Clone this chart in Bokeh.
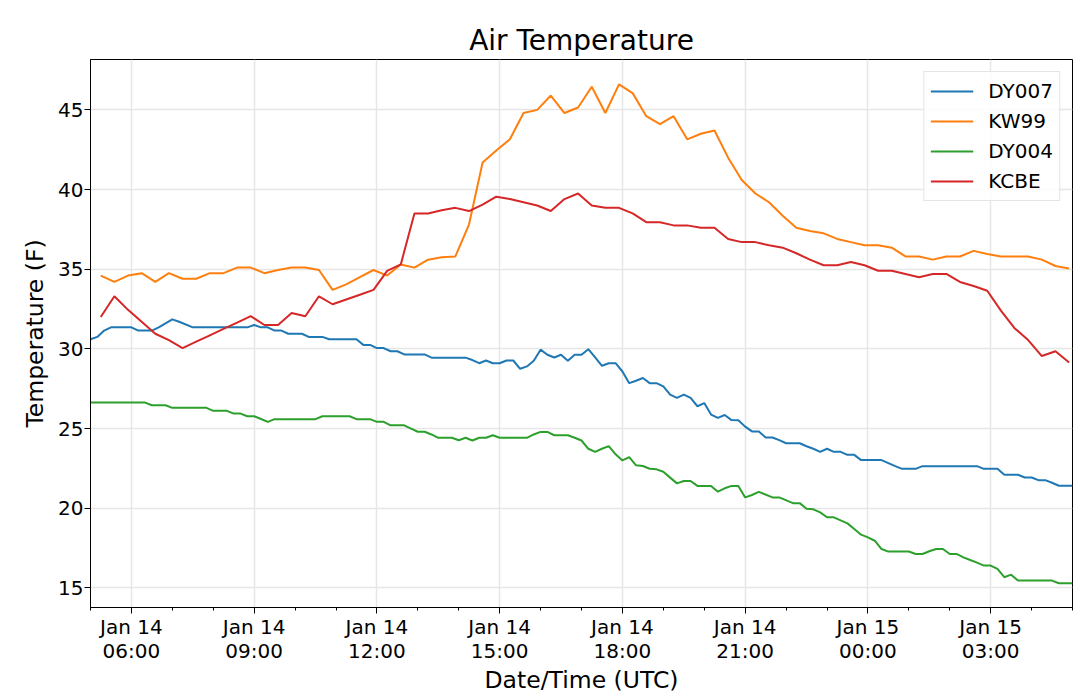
import pandas as pd
from bokeh.plotting import figure
from bokeh.models import FixedTicker, Range1d, Legend, LegendItem, ColumnDataSource
from bokeh.embed import file_html
from bokeh.resources import INLINE

DAY = "2019-01-14"

# ---------------- data ----------------
# DY007 (10-min station, breakpoints of the trace)
dy007_times = ["05:00", "05:10", "05:20", "05:30", "06:00", "06:10", "06:30", "06:40", "07:00", "07:10",
               "07:30", "08:50", "09:00", "09:10", "09:20", "09:30", "09:40", "09:50", "10:10", "10:20",
               "10:40", "10:50", "11:30", "11:40", "11:50", "12:00", "12:10", "12:20", "12:30", "12:40",
               "13:10", "13:20", "14:10", "14:20", "14:30", "14:40", "14:50", "15:00", "15:10", "15:20",
               "15:30", "15:40", "15:50", "16:00", "16:10", "16:20", "16:30", "16:40", "16:50", "17:00",
               "17:10", "17:20", "17:30", "17:40", "17:50", "18:00", "18:10", "18:20", "18:30", "18:40",
               "18:50", "19:00", "19:10", "19:20", "19:30", "19:40", "19:50", "20:00", "20:10", "20:20",
               "20:30", "20:40", "20:50", "21:00", "21:10", "21:20", "21:30", "21:40", "21:50", "22:00",
               "22:20", "22:30", "22:40", "22:50", "23:00", "23:10", "23:20", "23:30", "23:40", "23:50",
               "00:20", "00:30", "00:40", "00:50", "01:10", "01:20", "02:40", "02:50", "03:10", "03:20",
               "03:40", "03:50", "04:00", "04:10", "04:20", "04:30", "04:40", "05:00"]
dy007_vals = [30.6, 30.75, 31.15, 31.35, 31.35, 31.15, 31.15, 31.35, 31.85, 31.7,
              31.35, 31.35, 31.5, 31.35, 31.35, 31.15, 31.15, 30.95, 30.95, 30.75,
              30.75, 30.6, 30.6, 30.25, 30.25, 30.05, 30.05, 29.85, 29.85, 29.65,
              29.65, 29.45, 29.45, 29.3, 29.1, 29.27, 29.1, 29.1, 29.27, 29.27,
              28.75, 28.9, 29.25, 29.95, 29.63, 29.46, 29.63, 29.25, 29.63, 29.63,
              29.98, 29.46, 28.94, 29.1, 29.1, 28.58, 27.85, 28.0, 28.17, 27.85,
              27.85, 27.65, 27.13, 26.92, 27.13, 26.92, 26.4, 26.6, 25.88, 25.67,
              25.85, 25.53, 25.52, 25.12, 24.82, 24.82, 24.44, 24.44, 24.27, 24.08,
              24.08, 23.89, 23.73, 23.54, 23.73, 23.54, 23.54, 23.35, 23.35, 23.02,
              23.02, 22.83, 22.64, 22.47, 22.47, 22.64, 22.64, 22.47, 22.47, 22.1,
              22.1, 21.93, 21.93, 21.76, 21.76, 21.6, 21.41, 21.41]

# DY004 (10-min station, breakpoints of the trace)
dy004_times = ["05:00", "06:20", "06:30", "06:50", "07:00", "07:50", "08:00", "08:20", "08:30", "08:40",
               "08:50", "09:00", "09:10", "09:20", "09:30", "10:30", "10:40", "11:20", "11:30", "11:50",
               "12:00", "12:10", "12:20", "12:40", "12:50", "13:00", "13:10", "13:20", "13:30", "13:50",
               "14:00", "14:10", "14:20", "14:30", "14:40", "14:50", "15:00", "15:40", "15:50", "16:00",
               "16:10", "16:20", "16:40", "16:50", "17:00", "17:10", "17:20", "17:30", "17:40", "17:50",
               "18:00", "18:10", "18:20", "18:30", "18:40", "18:50", "19:00", "19:10", "19:20", "19:30",
               "19:40", "19:50", "20:10", "20:20", "20:30", "20:40", "20:50", "21:00", "21:10", "21:20",
               "21:40", "21:50", "22:10", "22:20", "22:30", "22:40", "22:50", "23:00", "23:10", "23:30",
               "23:40", "23:50", "00:00", "00:10", "00:20", "00:30", "01:00", "01:10", "01:20", "01:30",
               "01:40", "01:50", "02:00", "02:10", "02:20", "02:30", "02:40", "02:50", "03:00", "03:10",
               "03:20", "03:30", "03:40", "04:30", "04:40", "05:00"]
dy004_vals = [26.63, 26.63, 26.46, 26.46, 26.3, 26.3, 26.11, 26.11, 25.94, 25.94,
              25.77, 25.77, 25.6, 25.42, 25.59, 25.59, 25.77, 25.77, 25.59, 25.59,
              25.42, 25.42, 25.2, 25.2, 25.0, 24.8, 24.8, 24.63, 24.42, 24.42,
              24.27, 24.42, 24.25, 24.42, 24.42, 24.58, 24.42, 24.42, 24.63, 24.79,
              24.79, 24.58, 24.58, 24.42, 24.25, 23.73, 23.54, 23.73, 23.9, 23.38,
              23.0, 23.21, 22.69, 22.65, 22.48, 22.44, 22.29, 21.92, 21.56, 21.71,
              21.71, 21.4, 21.4, 21.04, 21.25, 21.4, 21.4, 20.68, 20.83, 21.03,
              20.68, 20.68, 20.32, 20.32, 19.97, 19.93, 19.74, 19.43, 19.43, 19.05,
              18.7, 18.34, 18.17, 17.96, 17.44, 17.28, 17.28, 17.13, 17.13, 17.3,
              17.44, 17.44, 17.13, 17.13, 16.92, 16.75, 16.59, 16.4, 16.4, 16.19,
              15.67, 15.83, 15.46, 15.46, 15.29, 15.29]

# KW99 and KCBE: observations every 20 minutes from 05:15
obs_start = "05:15"
obs_step_min = 20
kw99_vals = [34.6, 34.2, 34.6, 34.75, 34.2, 34.75, 34.4, 34.4, 34.75, 34.75,
             35.1, 35.1, 34.75, 34.95, 35.1, 35.1, 34.95, 33.7, 34.05, 34.5,
             34.95, 34.6, 35.3, 35.1, 35.6, 35.75, 35.8, 37.8, 41.7, 42.45,
             43.15, 44.8, 45.0, 45.9, 44.8, 45.15, 46.45, 44.8, 46.6, 46.05,
             44.6, 44.1, 44.6, 43.15, 43.5, 43.7, 42.0, 40.6, 39.75, 39.2,
             38.35, 37.6, 37.4, 37.25, 36.9, 36.7, 36.5, 36.5, 36.35, 35.8,
             35.8, 35.6, 35.8, 35.8, 36.15, 35.95, 35.8, 35.8, 35.8, 35.6,
             35.2, 35.05]
kcbe_vals = [32.0, 33.3, 32.45, 31.7, 30.95, 30.55, 30.05, 30.45, 30.85, 31.25,
             31.65, 32.05, 31.5, 31.5, 32.25, 32.05, 33.3, 32.8, 33.1, 33.4,
             33.7, 34.9, 35.3, 38.5, 38.5, 38.7, 38.85, 38.65, 39.05, 39.55,
             39.4, 39.2, 39.0, 38.65, 39.4, 39.75, 39.0, 38.85, 38.85, 38.5,
             37.95, 37.95, 37.75, 37.75, 37.6, 37.6, 36.9, 36.7, 36.7, 36.5,
             36.35, 36.0, 35.6, 35.25, 35.25, 35.45, 35.25, 34.9, 34.9, 34.7,
             34.5, 34.7, 34.7, 34.2, 33.95, 33.65, 32.4, 31.3, 30.55, 29.55,
             29.85, 29.15]

series_names = ["DY007", "KW99", "DY004", "KCBE"]
series_colors = ["#1f77b4", "#ff7f0e", "#2ca02c", "#d62728"]

tick_times = ["2019-01-14 06:00", "2019-01-14 09:00", "2019-01-14 12:00", "2019-01-14 15:00",
              "2019-01-14 18:00", "2019-01-14 21:00", "2019-01-15 00:00", "2019-01-15 03:00"]
tick_labels = ["Jan 14\n06:00", "Jan 14\n09:00", "Jan 14\n12:00", "Jan 14\n15:00",
               "Jan 14\n18:00", "Jan 14\n21:00", "Jan 15\n00:00", "Jan 15\n03:00"]
y_ticks = [15, 20, 25, 30, 35, 40, 45]
x_start, x_end = "2019-01-14 05:00", "2019-01-15 05:00"
y_start, y_end = 13.77, 48.16


def clock_to_ts(clocks):
    out, day, prev = [], pd.Timestamp(DAY), None
    for c in clocks:
        hh, mm = map(int, c.split(":"))
        m = hh * 60 + mm
        if prev is not None and m < prev:
            day = day + pd.Timedelta(days=1)
        prev = m
        out.append(day + pd.Timedelta(minutes=m))
    return out


def regular_ts(start, step, n):
    return list(pd.date_range(pd.Timestamp(f"{DAY} {start}"), periods=n, freq=f"{step}min"))


xs = {
    "DY007": clock_to_ts(dy007_times),
    "KW99": regular_ts(obs_start, obs_step_min, len(kw99_vals)),
    "DY004": clock_to_ts(dy004_times),
    "KCBE": regular_ts(obs_start, obs_step_min, len(kcbe_vals)),
}
ys = {"DY007": dy007_vals, "KW99": kw99_vals, "DY004": dy004_vals, "KCBE": kcbe_vals}

FONT = "DejaVu Sans"


def ms(t):
    return pd.Timestamp(t).value / 1e6


p = figure(width=1073, height=697, x_axis_type="datetime", output_backend="svg",
           toolbar_location=None,
           x_range=Range1d(ms(x_start), ms(x_end)), y_range=Range1d(y_start, y_end),
           min_border_left=90, min_border_right=1, min_border_top=59, min_border_bottom=90)

p.title.text = "Air Temperature"
p.title.align = "center"
p.title.text_font = FONT
p.title.text_font_size = "28px"
p.title.text_font_style = "normal"
p.title.text_color = "black"
p.title.standoff = 6

items = []
for name, col in zip(series_names, series_colors):
    src = ColumnDataSource(dict(x=xs[name], y=ys[name]))
    r = p.line("x", "y", source=src, line_color=col, line_width=2)
    items.append(LegendItem(label=name, renderers=[r]))

major = [ms(t) for t in tick_times]
minor = [ms(pd.Timestamp(x_start) + pd.Timedelta(hours=h)) for h in range(0, 25)]
p.xaxis.ticker = FixedTicker(ticks=major, minor_ticks=minor)
p.xaxis.major_label_overrides = {m: lab for m, lab in zip(major, tick_labels)}
p.yaxis.ticker = FixedTicker(ticks=y_ticks, minor_ticks=[])

for ax in (p.xaxis[0], p.yaxis[0]):
    ax.major_label_text_font = FONT
    ax.major_label_text_font_size = "20px"
    ax.major_label_text_color = "black"
    ax.major_label_text_line_height = 1.0
    ax.axis_label_text_font = FONT
    ax.axis_label_text_font_size = "23.5px"
    ax.axis_label_text_font_style = "normal"
    ax.axis_label_text_color = "black"
    ax.axis_line_color = "black"
    ax.major_tick_line_color = "black"
    ax.minor_tick_line_color = "black"
    ax.major_tick_out = 6
    ax.major_tick_in = 0
    ax.minor_tick_out = 3
    ax.minor_tick_in = 0
    ax.major_label_standoff = 1

p.xaxis.axis_label = "Date/Time (UTC)"
p.yaxis.axis_label = "Temperature (F)"
p.xaxis.axis_label_standoff = 0
p.yaxis.axis_label_standoff = 6

p.xgrid.grid_line_color = "#e6e6e6"
p.ygrid.grid_line_color = "#e6e6e6"
p.xgrid.grid_line_width = 1.5
p.ygrid.grid_line_width = 1.5
p.outline_line_color = "black"
p.outline_line_width = 1
p.background_fill_color = "white"
p.border_fill_color = "white"

legend = Legend(items=items, location="top_right")
legend.label_text_font = FONT
legend.label_text_font_size = "20px"
legend.label_text_color = "black"
legend.glyph_width = 43
legend.glyph_height = 26
legend.label_height = 26
legend.spacing = 4
legend.padding = 6
legend.label_standoff = 15
legend.margin = 12
legend.border_line_color = "#cccccc"
legend.border_line_width = 1
legend.background_fill_alpha = 0.85
p.add_layout(legend)

open("out.html", "w").write(file_html(p, INLINE))
